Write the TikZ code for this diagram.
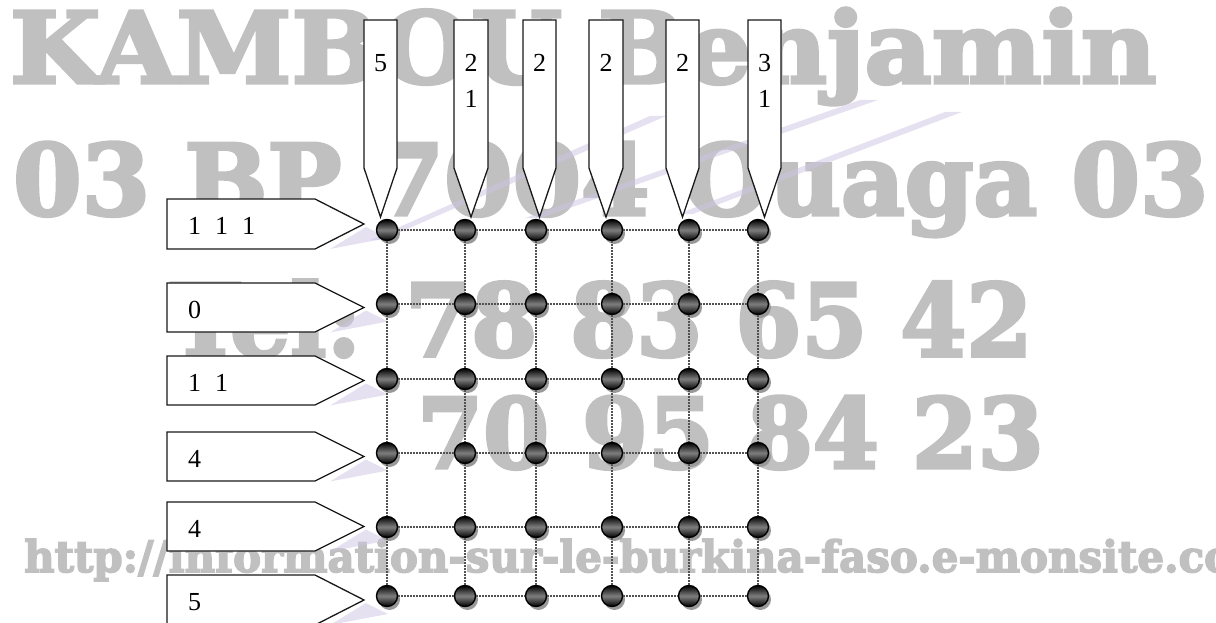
\documentclass[tikz,border=0pt]{standalone}
\usepackage{fontspec}
\setmainfont{Liberation Serif}
\newfontfamily\wmfont{DejaVu Serif}[BoldFeatures={FakeBold=3.5}]
\usepackage{graphicx}
\usetikzlibrary{shadows}
\definecolor{wmgray}{RGB}{192,192,192}
\definecolor{lav}{RGB}{205,196,228}
\begin{document}
\begin{tikzpicture}[x=1pt,y=-1pt,
  wm/.style={text=wmgray, inner sep=0pt, anchor=base west},
  lbl/.style={font=\fontsize{26}{30}\selectfont, inner sep=0pt, anchor=base},
  llbl/.style={font=\fontsize{26}{30}\selectfont, inner sep=0pt, anchor=base west},
  ptr/.style={draw=black!90, fill=white, line width=1.3pt, line join=miter},
  gridline/.style={densely dotted, line width=2pt, draw=black!68},
  ball/.style={circle, minimum size=21pt, inner sep=0pt, draw=black, line width=1.4pt,
    top color=black, bottom color=black, middle color=black!50,
    drop shadow={shadow xshift=2.5pt, shadow yshift=-3.5pt, fill=black!40, opacity=1}},
  stripe/.style={fill=lav, opacity=0.5}
]
\useasboundingbox (0,0) rectangle (1216,623);
\clip (0,0) rectangle (1216,623);

% watermark text
\node[wm] (w1) at (10,83) {\resizebox{1145pt}{75pt}{\wmfont\bfseries KAMBOU Benjamin}};
\node[wm] (w2) at (13,215) {\resizebox{1194pt}{73pt}{\wmfont\bfseries 03 BP 7004 Ouaga 03}};
\node[wm] (w3) at (170,356) {\resizebox{862pt}{76pt}{\wmfont\bfseries Tel: 78 83 65 42}};
\node[wm] (w4) at (417,468) {\resizebox{626pt}{72pt}{\wmfont\bfseries 70 95 84 23}};
\node[wm] (w5) at (24,572) {\resizebox{1252pt}{33pt}{\wmfont\bfseries http://information-sur-le-burkina-faso.e-monsite.com}};

% faint lavender stripes
\fill[stripe] (370,240) -- (650,116) -- (666,116) -- (382,240) -- cycle;
\fill[stripe] (525,218) -- (860,100) -- (878,100) -- (541,218) -- cycle;
\fill[stripe] (678,214) -- (945,112) -- (962,112) -- (693,214) -- cycle;
\foreach \m in {224,307.5,380.5,456.5,526.5,600}{
  \fill[stripe] (330,\m+25) -- (366,\m+3) -- (388,\m+14) -- cycle;
}

% top pointers
\foreach \l/\r/\t in {364/397/380.5, 454/488/471, 523/556/539.5, 589/623/606, 666/699/682.5, 748/781/764.5}{
  \draw[ptr] (\l,20) -- (\r,20) -- (\r,168) -- (\t,217) -- (\l,168) -- cycle;
}
\node[lbl] (c1a) at (380.5,72) {5};
\node[lbl] (c2a) at (471,72) {2};
\node[lbl] (c2b) at (471,108) {1};
\node[lbl] (c3a) at (539.5,72) {2};
\node[lbl] (c4a) at (606,72) {2};
\node[lbl] (c5a) at (682.5,72) {2};
\node[lbl] (c6a) at (764.5,72) {3};
\node[lbl] (c6b) at (764.5,108) {1};

% left pointers
\foreach \tp/\bt in {199/249, 283/332, 356/405, 432/481, 502/551, 575/625}{
  \draw[ptr] (167,\tp) -- (315,\tp) -- (364,{(\tp+\bt)/2}) -- (315,\bt) -- (167,\bt) -- cycle;
}
\node[llbl] (r1) at (188,234) {1\hspace{14pt}1\hspace{14pt}1};
\node[llbl] (r2) at (188,318) {0};
\node[llbl] (r3) at (188,391) {1\hspace{14pt}1};
\node[llbl] (r4) at (188,467) {4};
\node[llbl] (r5) at (188,537) {4};
\node[llbl] (r6) at (188,610) {5};

% balls
\foreach \y [count=\i] in {230,304,379,453,527,596}{
  \foreach \x [count=\j] in {387,465,536,612,689,758}{
    \node[ball] (d-\i-\j) at (\x,\y) {};
  }
}

% grid connectors
\foreach \i in {1,...,6}{
  \foreach \j [evaluate=\j as \k using int(\j+1)] in {1,...,5}{
    \draw[gridline] (d-\i-\j) -- (d-\i-\k);
    \draw[gridline] (d-\j-\i) -- (d-\k-\i);
  }
}
\end{tikzpicture}
\end{document}
